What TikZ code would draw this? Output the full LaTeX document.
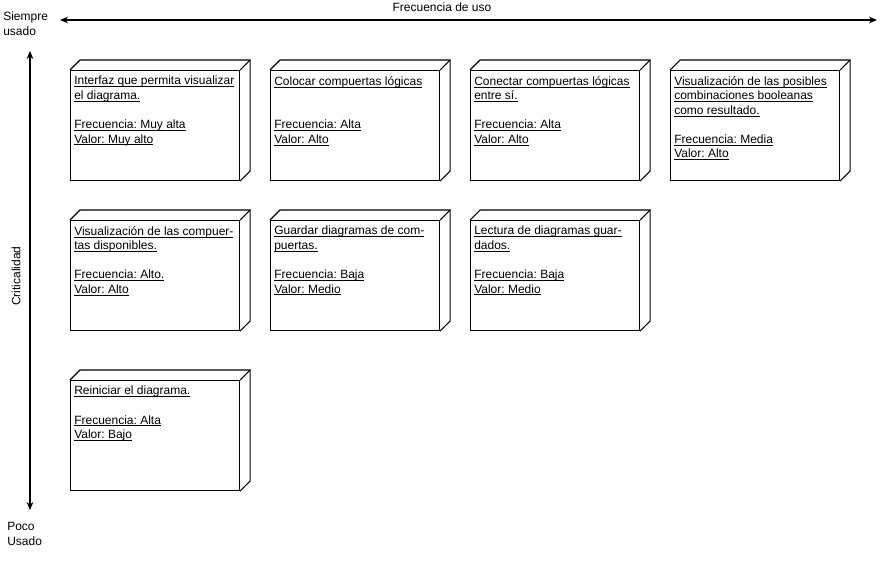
\documentclass[tikz,border=0pt]{standalone}
\usepackage{fontspec}
\setmainfont{Liberation Sans}
\usetikzlibrary{arrows.meta}
\frenchspacing
\newcommand\ulx[1]{\leavevmode\setbox0\hbox{#1}\rlap{\rule[-1.6pt]{\wd0}{0.55pt}}\box0}
\tikzset{
  front/.style={draw, line width=0.8pt, minimum width=126.75pt, minimum height=82.5pt, inner sep=0pt, anchor=north west},
  edge/.style={line width=0.8pt, line join=miter},
  txt/.style={anchor=north west, inner sep=0pt, align=left, font=\fontsize{9pt}{10.9pt}\selectfont\frenchspacing},
  lbl/.style={inner sep=0pt, align=left, font=\fontsize{9pt}{11.25pt}\selectfont},
  axis/.style={line width=0.8pt, {Stealth[length=6pt,width=5pt]}-{Stealth[length=6pt,width=5pt]}}
}
\newcommand\cubebox[4]{%
  \node[front] (#1) at (#2,#3) {};
  \draw[edge] (#1.north west) -- ++(10,-10) -| ([shift={(10,-10)}]#1.south east) -- (#1.south east);
  \draw[edge] (#1.north east) -- ++(10,-10);
  \node[txt] (#1t) at ([shift={(4,6)}]#1.north west) {#4};
}
\begin{document}
\begin{tikzpicture}[x=0.75pt,y=-0.75pt]
\useasboundingbox (0,0) rectangle (889,563);
% axes
\coordinate (hl) at (60,20);
\coordinate (hr) at (877,20);
\coordinate (vt) at (30,51);
\coordinate (vb) at (30,510);
\draw[axis] (hl) -- (hr);
\draw[axis] (vt) -- (vb);
\node[lbl] (frec) at (442,7) {Frecuencia de uso};
\node[lbl, anchor=west] (siempre) at (3,23.5) {Siempre\\usado};
\node[lbl, anchor=west] (poco) at (7,534) {Poco\\Usado};
\node[lbl, rotate=90] (crit) at (16,276) {Criticalidad};
% boxes
\cubebox{b1}{70}{70}{\ulx{Interfaz que permita visualizar}\\\ulx{el diagrama.}\\ \\\ulx{Frecuencia: Muy alta}\\\ulx{Valor: Muy alto}}
\cubebox{b2}{270}{70}{\ulx{Colocar compuertas lógicas}\\ \\ \\\ulx{Frecuencia: Alta}\\\ulx{Valor: Alto}}
\cubebox{b3}{470}{70}{\ulx{Conectar compuertas lógicas}\\\ulx{entre sí.}\\ \\\ulx{Frecuencia: Alta}\\\ulx{Valor: Alto}}
\cubebox{b4}{670}{70}{\ulx{Visualización de las posibles}\\\ulx{combinaciones booleanas}\\\ulx{como resultado.}\\ \\\ulx{Frecuencia: Media}\\\ulx{Valor: Alto}}
\cubebox{b5}{70}{220}{\ulx{Visualización de las compuer-}\\\ulx{tas disponibles.}\\ \\\ulx{Frecuencia: Alto.}\\\ulx{Valor: Alto}}
\cubebox{b6}{270}{220}{\ulx{Guardar diagramas de com-}\\\ulx{puertas.}\\ \\\ulx{Frecuencia: Baja}\\\ulx{Valor: Medio}}
\cubebox{b7}{470}{220}{\ulx{Lectura de diagramas guar-}\\\ulx{dados.}\\ \\\ulx{Frecuencia: Baja}\\\ulx{Valor: Medio}}
\cubebox{b8}{70}{380}{\ulx{Reiniciar el diagrama.}\\ \\\ulx{Frecuencia: Alta}\\\ulx{Valor: Bajo}}
\end{tikzpicture}
\end{document}
